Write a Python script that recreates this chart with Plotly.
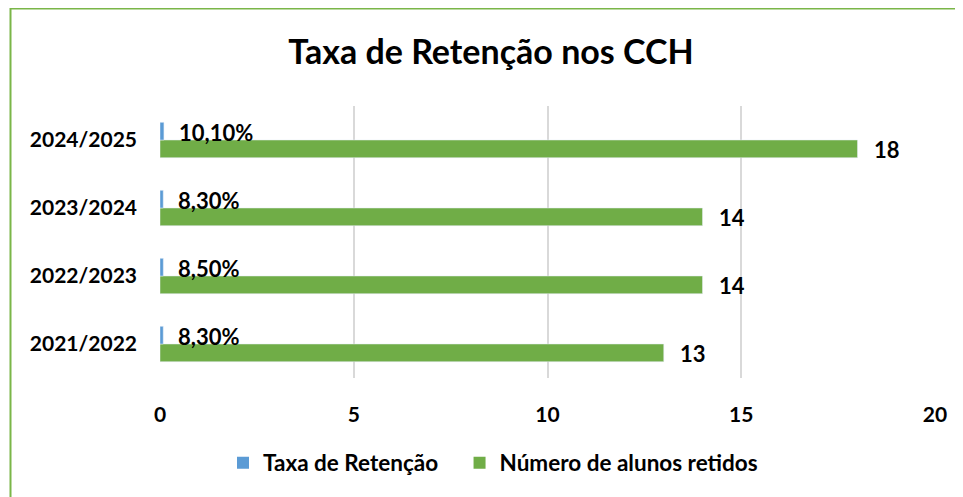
import plotly.graph_objects as go

categories = ["2021/2022", "2022/2023", "2023/2024", "2024/2025"]
taxa = [0.083, 0.085, 0.083, 0.101]
taxa_labels = ["8,30%", "8,50%", "8,30%", "10,10%"]
retidos = [13, 14, 14, 18]
x_ticks = [0, 5, 10, 15, 20]
series_names = ["Taxa de Retenção", "Número de alunos retidos"]

BLUE = "#5B9BD5"
GREEN = "#70AD47"
FONT = "Lato"
O = 8  # page body offset

fig = go.Figure()
fig.add_trace(go.Bar(
    y=categories, x=retidos, orientation="h", name=series_names[1],
    marker_color=GREEN, showlegend=False,
))
fig.add_trace(go.Bar(
    y=categories, x=taxa, orientation="h", name=series_names[0],
    marker_color=BLUE, showlegend=False,
))
# legend entries with square swatches
for nm, col, pad in [(series_names[0], BLUE, "&nbsp;" * 3), (series_names[1], GREEN, "")]:
    fig.add_trace(go.Scatter(
        x=[None], y=[None], mode="markers", name=nm + pad,
        marker=dict(symbol="square", size=12, color=col), showlegend=True,
    ))

annotations = []
for c, v, t in zip(categories, taxa, taxa_labels):
    annotations.append(dict(x=v, y=c, text=t, xref="x", yref="y", showarrow=False,
                            xanchor="left", yanchor="middle", xshift=13, yshift=8,
                            font=dict(family=FONT, size=22, color="black", weight="bold")))
for c, v in zip(categories, retidos):
    annotations.append(dict(x=v, y=c, text=str(v), xref="x", yref="y", showarrow=False,
                            xanchor="left", yanchor="middle", xshift=14, yshift=-9,
                            font=dict(family=FONT, size=22, color="black", weight="bold")))

W, H = 963, 497
L, T = 160 - O, 106 - O
R = W - (935 - O)
B = H - (378 - O)
PW, PH = W - L - R, H - T - B

def px_x(sx):
    return (sx - O - L) / PW

def px_y(sy):
    return (H - B - (sy - O)) / PH

fig.update_layout(
    width=W, height=H,
    margin=dict(l=L, r=R, t=T, b=B),
    paper_bgcolor="white", plot_bgcolor="white",
    barmode="group", bargap=0.48, bargroupgap=0,
    font=dict(family=FONT, color="black"),
    title=dict(text="<b>Taxa de Retenção nos CCH</b>", x=px_x(491), xref="paper",
               xanchor="center", y=1 - (52 - O) / H, yanchor="middle",
               font=dict(family=FONT, size=34, color="black")),
    xaxis=dict(range=[0, 20], tickvals=x_ticks, ticktext=[str(v) for v in x_ticks],
               showgrid=True, gridcolor="#D9D9D9", gridwidth=1.5, zeroline=False,
               showline=False, ticks="", ticklabelstandoff=22,
               tickfont=dict(family=FONT, size=21, color="black", weight="bold")),
    yaxis=dict(showgrid=False, zeroline=False, showline=False, ticks="",
               ticklabelstandoff=22, categoryorder="array", categoryarray=categories,
               tickfont=dict(family=FONT, size=21, color="black", weight="bold")),
    legend=dict(orientation="h", x=px_x(223), xanchor="left",
                y=px_y(463), yanchor="middle",
                font=dict(family=FONT, size=22.5, color="black", weight="bold"),
                traceorder="normal", itemwidth=30),
    annotations=annotations,
    shapes=[dict(type="rect", xref="paper", yref="paper",
                 x0=px_x(10.5), x1=px_x(985),
                 y0=px_y(520), y1=px_y(8.5),
                 line=dict(color="#7AB648", width=2), fillcolor="rgba(0,0,0,0)",
                 layer="above")],
)

fig.write_html("out.html")
